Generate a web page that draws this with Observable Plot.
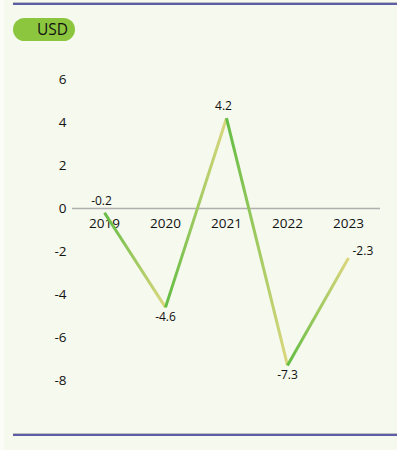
<!DOCTYPE html>
<html>
<head>
<meta charset="utf-8">
<script src="https://cdn.jsdelivr.net/npm/d3@7"></script>
<script src="https://cdn.jsdelivr.net/npm/@observablehq/plot@0.6"></script>
<style>
  html, body { margin: 0; padding: 0; background: #fbfcf7; }
  #wrap { position: relative; width: 393px; height: 450px; margin-left: 4px; background: #f6f9ee; overflow: hidden; font-family: "Open Sans", sans-serif; }
  .rule { position: absolute; left: 9px; right: 0; height: 2px; background: #5d5da6; border-top: 1px solid #bdbdc4; }
  #pill { position: absolute; left: 9px; top: 18px; width: 62px; height: 23px; border-radius: 12px; background: #8cc63f; }
  #pill span { position: absolute; right: 7px; top: 1px; font-size: 15.5px; line-height: 21px; color: #111; }
  #chart { position: absolute; left: -4px; top: 0; }
</style>
</head>
<body>
<div id="wrap">
  <div class="rule" style="top:2px"></div>
  <div class="rule" style="top:433px"></div>
  <div id="pill"><span>USD</span></div>
  <div id="chart"></div>
</div>
<script>
const years = ["2019", "2020", "2021", "2022", "2023"];
const values = [-0.2, -4.6, 4.2, -7.3, -2.3];
const yTicks = [6, 4, 2, 0, -2, -4, -6, -8];

const data = years.map((year, i) => ({year, value: values[i], i}));
const segments = data.slice(0, -1).map((d, i) => ({a: d, b: data[i + 1]}));

const gradientDefs = () => {
  const defs = d3.create("svg:defs");
  const g = defs.append("linearGradient")
    .attr("id", "segGrad")
    .attr("x1", "0").attr("y1", "0").attr("x2", "1").attr("y2", "0");
  g.append("stop").attr("offset", "0%").attr("stop-color", "#63bd44");
  g.append("stop").attr("offset", "100%").attr("stop-color", "#dcd77e");
  return defs.node();
};

const above = data.filter(d => d.i === 0 || d.i === 2);
const below = data.filter(d => d.i === 1 || d.i === 3);
const last = data.filter(d => d.i === 4);

const chart = Plot.plot({
  width: 397,
  height: 450,
  marginLeft: 72,
  marginRight: 17,
  marginTop: 79,
  marginBottom: 70,
  style: {background: "transparent", fontFamily: "Open Sans, sans-serif", color: "#111"},
  x: {type: "point", domain: years, padding: 0.5, axis: null},
  y: {domain: [-8, 6], axis: null},
  marks: [
    gradientDefs,
    Plot.ruleY([0], {stroke: "#b0b0b0", strokeWidth: 1.5}),
    Plot.axisY({ticks: yTicks, tickSize: 0, tickPadding: 6, fontSize: 13.5, label: null, tickFormat: d => String(d), fill: "#111"}),
    Plot.text(years, {x: d => d, y: () => 0, dy: 15, fontSize: 13.5, fill: "#111"}),
    Plot.link(segments, {
      x1: d => d.a.year, y1: d => d.a.value,
      x2: d => d.b.year, y2: d => d.b.value,
      stroke: "url(#segGrad)", strokeWidth: 3, strokeLinecap: "butt"
    }),
    Plot.text(above, {x: "year", y: "value", text: d => String(d.value), dy: -12, dx: -3, fontSize: 12, fill: "#111"}),
    Plot.text(below, {x: "year", y: "value", text: d => String(d.value), dy: 10, fontSize: 12, fill: "#111"}),
    Plot.text(last, {x: "year", y: "value", text: d => String(d.value), dx: 4, dy: -7, textAnchor: "start", fontSize: 12, fill: "#111"})
  ]
});
document.getElementById("chart").appendChild(chart);
</script>
</body>
</html>
